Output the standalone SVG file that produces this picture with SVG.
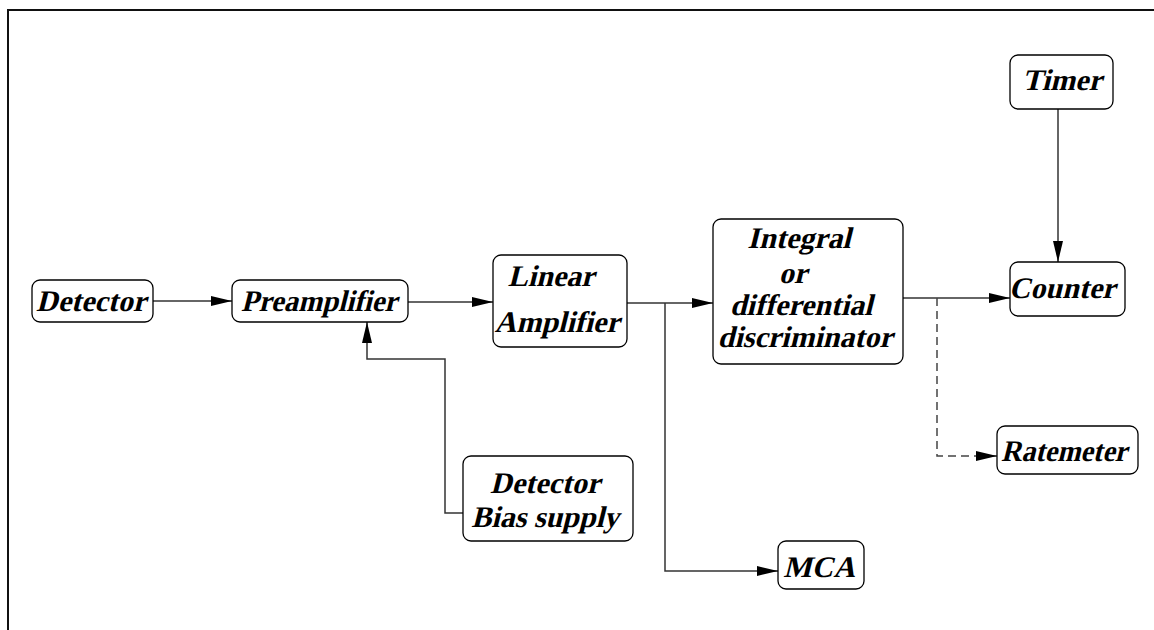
<svg xmlns="http://www.w3.org/2000/svg" width="1154" height="630" viewBox="0 0 1154 630">
<style>
.box{fill:#fff;stroke:#000;stroke-width:1.3}
.t{font-family:'Liberation Serif','Times New Roman',serif;font-weight:700;font-style:normal;font-size:30px;fill:#000;text-anchor:middle}
.c{fill:none;stroke:#333;stroke-width:1.5}
.d{fill:none;stroke:#444;stroke-width:1.5;stroke-dasharray:8 5}
</style>
<defs>
<marker id="ah" markerUnits="userSpaceOnUse" markerWidth="22" markerHeight="11" refX="21" refY="5" orient="auto">
<path d="M0,0 L21,5 L0,10 z" fill="#000"/>
</marker>
</defs>
<rect x="0" y="0" width="1154" height="630" fill="#fff"/>
<path d="M8,640 V10 H1160" fill="none" stroke="#111" stroke-width="2"/>
<g id="connectors">
<path class="c" d="M153,301 H232" marker-end="url(#ah)"/>
<path class="c" d="M408,302 H493" marker-end="url(#ah)"/>
<path class="c" d="M463,513 H445 V359 H367 V322" marker-end="url(#ah)"/>
<path class="c" d="M627,303 H713" marker-end="url(#ah)"/>
<path class="c" d="M665,303 V571 H778" marker-end="url(#ah)"/>
<path class="c" d="M903,298 H1010" marker-end="url(#ah)"/>
<path class="c" d="M1058,109 V262" marker-end="url(#ah)"/>
<path class="d" d="M937,298 V456 H980"/>
<path class="c" d="M978,456 H997" marker-end="url(#ah)"/>
</g>
<g id="detector">
<rect class="box" x="32" y="280" width="121" height="42" rx="8"/>
<text class="t" transform="translate(91,311) skewX(-14)">Detector</text>
</g>
<g id="preamplifier">
<rect class="box" x="232" y="280" width="176" height="42" rx="8"/>
<text class="t" transform="translate(319,311) skewX(-14)" textLength="156" lengthAdjust="spacingAndGlyphs">Preamplifier</text>
</g>
<g id="linear-amplifier">
<rect class="box" x="493" y="255" width="134" height="92" rx="8"/>
<text class="t" transform="translate(551,286) skewX(-14)">Linear</text>
<text class="t" transform="translate(557,332) skewX(-14)">Amplifier</text>
</g>
<g id="discriminator">
<rect class="box" x="713" y="219" width="190" height="145" rx="8"/>
<text class="t" transform="translate(799,248) skewX(-14)">Integral</text>
<text class="t" transform="translate(793,283) skewX(-14)">or</text>
<text class="t" transform="translate(801,315) skewX(-14)">differential</text>
<text class="t" transform="translate(805,347) skewX(-14)">discriminator</text>
</g>
<g id="bias-supply">
<rect class="box" x="463" y="456" width="170" height="85" rx="8"/>
<text class="t" transform="translate(545,493) skewX(-14)">Detector</text>
<text class="t" transform="translate(545,527) skewX(-14)">Bias supply</text>
</g>
<g id="mca">
<rect class="box" x="778" y="541" width="86" height="48" rx="8"/>
<text class="t" transform="translate(819,577) skewX(-14)">MCA</text>
</g>
<g id="timer">
<rect class="box" x="1010" y="55" width="103" height="54" rx="8"/>
<text class="t" transform="translate(1062,90) skewX(-14)">Timer</text>
</g>
<g id="counter">
<rect class="box" x="1010" y="262" width="115" height="54" rx="8"/>
<text class="t" transform="translate(1062,298) skewX(-14)">Counter</text>
</g>
<g id="ratemeter">
<rect class="box" x="997" y="426" width="141" height="48" rx="8"/>
<text class="t" transform="translate(1064,461) skewX(-14)" textLength="126" lengthAdjust="spacingAndGlyphs">Ratemeter</text>
</g>
</svg>
